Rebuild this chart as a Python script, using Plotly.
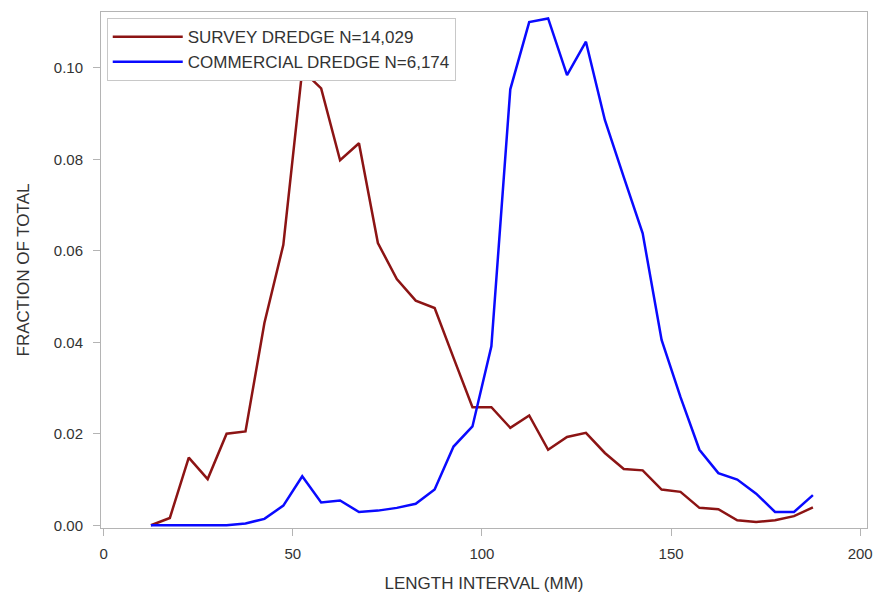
import plotly.graph_objects as go

length_mm = [12.5, 17.5, 22.5, 27.5, 32.5, 37.5, 42.5, 47.5, 52.5, 57.5, 62.5, 67.5,
             72.5, 77.5, 82.5, 87.5, 92.5, 97.5, 102.5, 107.5, 112.5, 117.5, 122.5, 127.5,
             132.5, 137.5, 142.5, 147.5, 152.5, 157.5, 162.5, 167.5, 172.5, 177.5, 182.5, 187.5]

survey = [0.0000, 0.0016, 0.0148, 0.0101, 0.0200, 0.0205, 0.0442, 0.0613, 0.0995, 0.0955,
          0.0798, 0.0835, 0.0617, 0.0538, 0.0491, 0.0475, 0.0366, 0.0258, 0.0258, 0.0213,
          0.0240, 0.0165, 0.0193, 0.0202, 0.0158, 0.0123, 0.0120, 0.0078, 0.0073, 0.0038,
          0.0035, 0.0011, 0.0007, 0.0011, 0.0020, 0.0039]

commercial = [0.0000, 0.0000, 0.0000, 0.0000, 0.0000, 0.0004, 0.0014, 0.0043, 0.0107, 0.0050,
              0.0054, 0.0029, 0.0032, 0.0038, 0.0047, 0.0078, 0.0172, 0.0216, 0.0391, 0.0953,
              0.1100, 0.1108, 0.0984, 0.1057, 0.0886, 0.0761, 0.0638, 0.0405, 0.0280, 0.0165,
              0.0114, 0.0100, 0.0069, 0.0029, 0.0029, 0.0066]

names = ["SURVEY DREDGE N=14,029", "COMMERCIAL DREDGE N=6,174"]

FONT = "Liberation Sans, Arial, sans-serif"
TXT = "#333333"

fig = go.Figure()
fig.add_trace(go.Scatter(x=length_mm, y=survey, mode="lines", name=names[0],
                         line=dict(color="#8C1414", width=2.5)))
fig.add_trace(go.Scatter(x=length_mm, y=commercial, mode="lines", name=names[1],
                         line=dict(color="#0A0AFF", width=2.5)))

axis_common = dict(showline=True, linecolor="#B4B4B4", linewidth=1, mirror=True,
                   showgrid=False, zeroline=False, ticks="outside", ticklen=7,
                   tickcolor="#B4B4B4", automargin=False,
                   tickfont=dict(family=FONT, size=15, color=TXT))

fig.update_layout(
    width=877, height=595,
    margin=dict(l=101, r=10, t=12, b=67),
    paper_bgcolor="white", plot_bgcolor="white",
    font=dict(family=FONT, size=15, color=TXT),
    xaxis=dict(range=[-0.7, 201.8], tickvals=[0, 50, 100, 150, 200],
               ticklabelstandoff=5,
               title=dict(text="LENGTH INTERVAL (MM)", standoff=16,
                          font=dict(family=FONT, size=17, color=TXT)),
               **axis_common),
    yaxis=dict(range=[-0.0006, 0.1122], tickvals=[0, 0.02, 0.04, 0.06, 0.08, 0.10],
               tickformat=".2f", ticklabelstandoff=7,
               title=dict(text="FRACTION OF TOTAL", standoff=19,
                          font=dict(family=FONT, size=17, color=TXT)),
               **axis_common),
    legend=dict(x=0.0075, y=0.988, xanchor="left", yanchor="top",
                bordercolor="#C8C8C8", borderwidth=1, bgcolor="white",
                itemwidth=70,
                font=dict(family=FONT, size=17, color=TXT), tracegroupgap=0),
    showlegend=True,
)

fig.write_html("out.html")
